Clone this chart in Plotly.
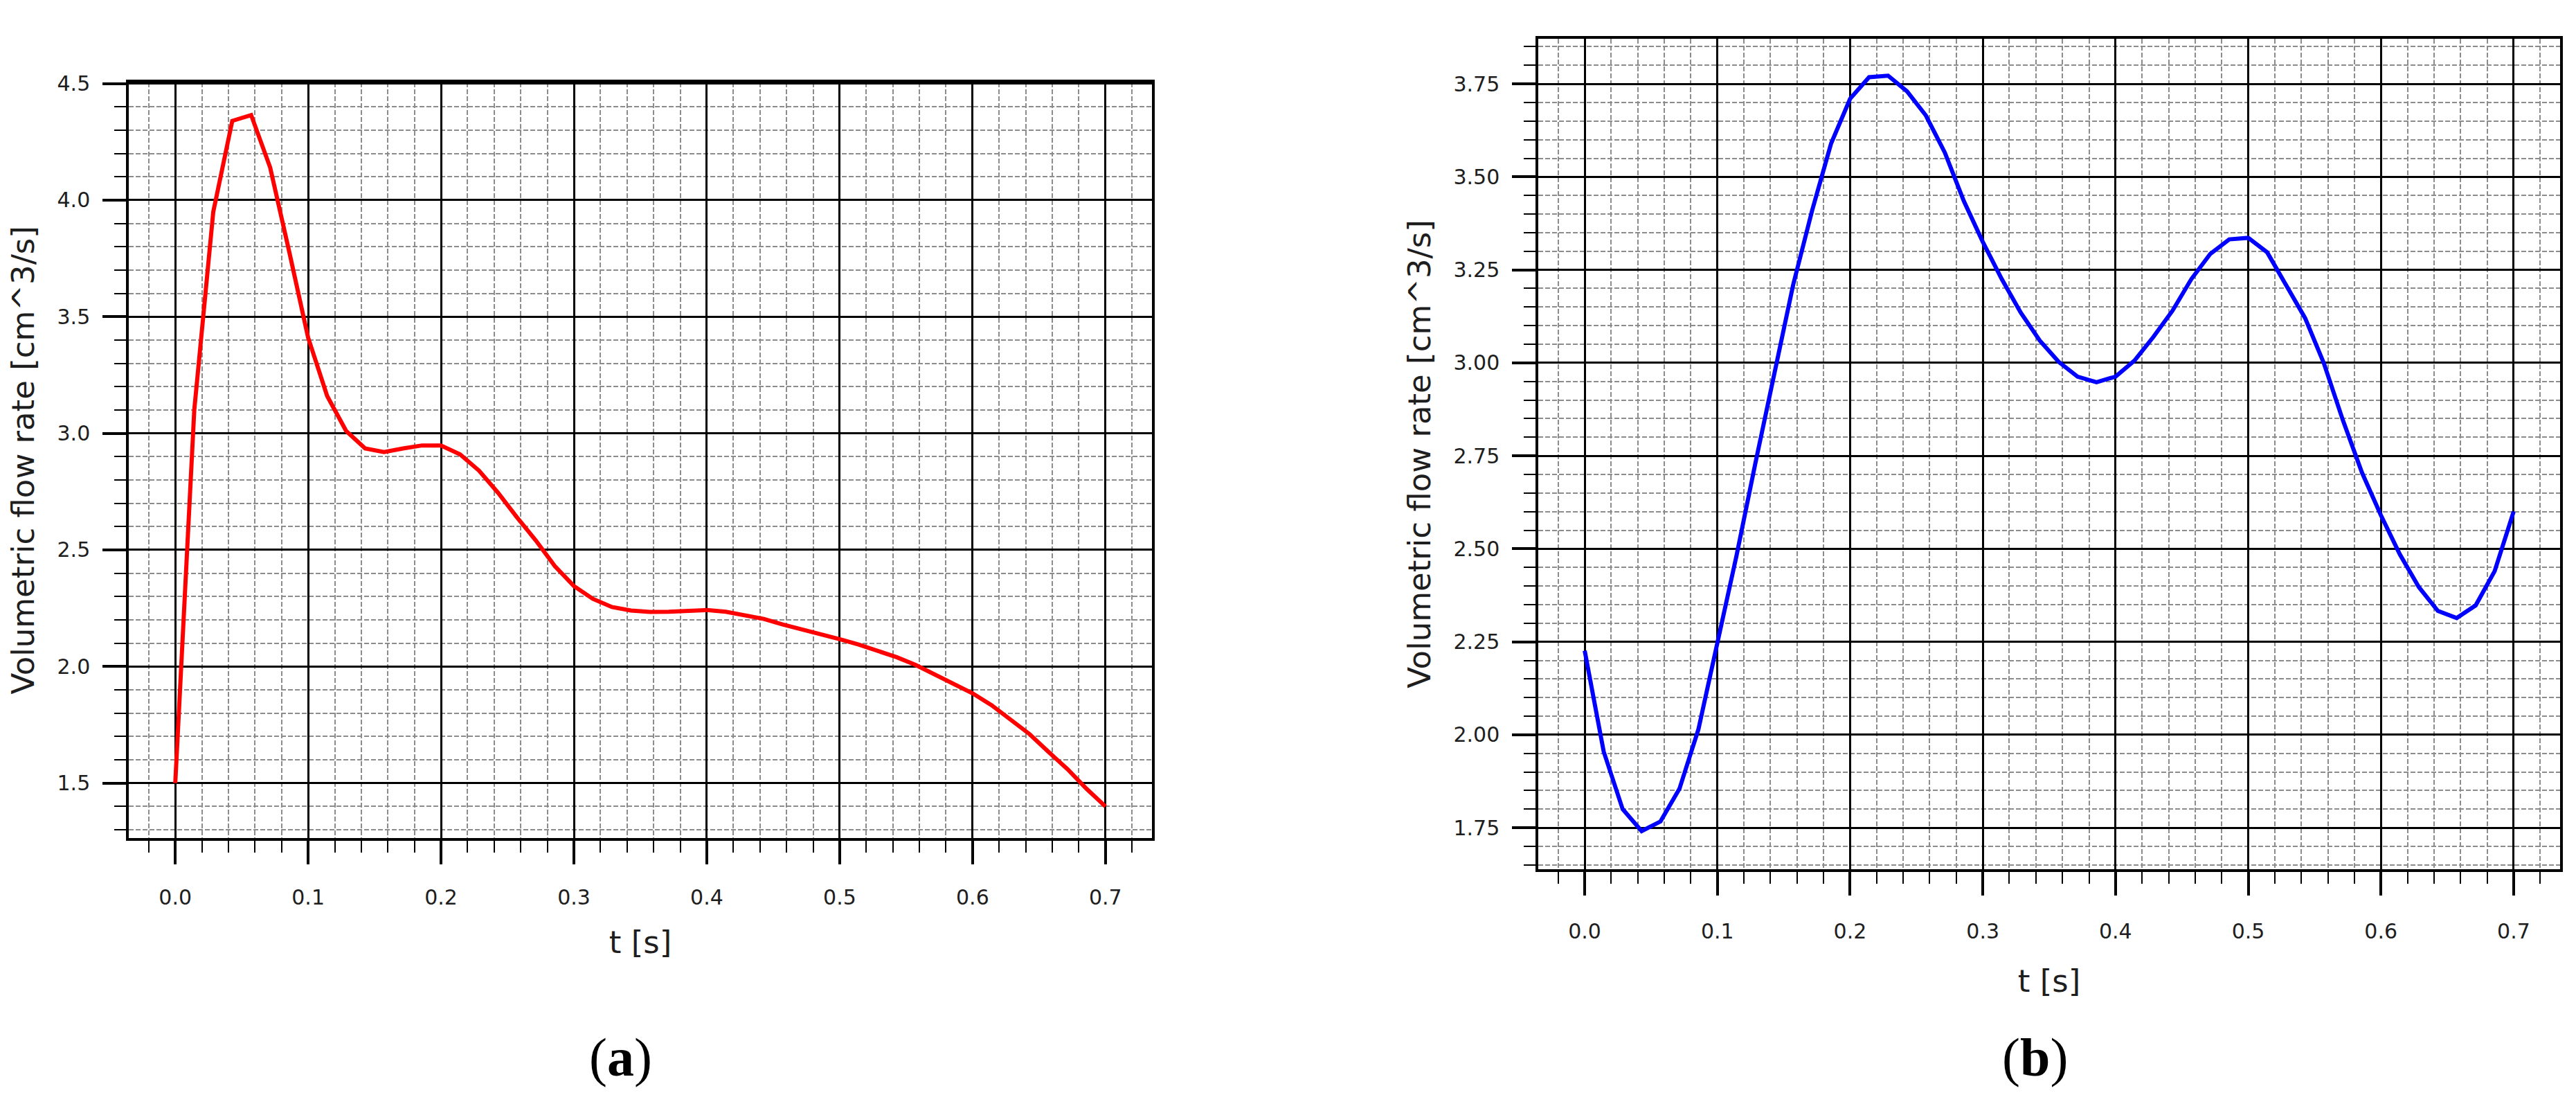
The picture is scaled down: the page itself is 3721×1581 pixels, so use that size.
import plotly.graph_objects as go

# ---- data ----
t_s = [0.0, 0.0143, 0.0286, 0.0429, 0.0571, 0.0714, 0.0857, 0.1, 0.1143, 0.1286,
       0.1429, 0.1571, 0.1714, 0.1857, 0.2, 0.2143, 0.2286, 0.2429, 0.2571, 0.2714,
       0.2857, 0.3, 0.3143, 0.3286, 0.3429, 0.3571, 0.3714, 0.3857, 0.4, 0.4143,
       0.4286, 0.4429, 0.4571, 0.4714, 0.4857, 0.5, 0.5143, 0.5286, 0.5429, 0.5571,
       0.5714, 0.5857, 0.6, 0.6143, 0.6286, 0.6429, 0.6571, 0.6714, 0.6857, 0.7]

flow_a = [1.50, 3.10, 3.95, 4.34, 4.365, 4.14, 3.78, 3.41, 3.16, 3.01,
          2.935, 2.92, 2.935, 2.948, 2.948, 2.91, 2.84, 2.745, 2.64, 2.54,
          2.43, 2.345, 2.29, 2.255, 2.24, 2.234, 2.235, 2.24, 2.242, 2.235,
          2.22, 2.204, 2.18, 2.16, 2.14, 2.117, 2.094, 2.069, 2.04, 2.007,
          1.966, 1.924, 1.885, 1.834, 1.772, 1.71, 1.634, 1.56, 1.476, 1.40]

flow_b = [2.226, 1.955, 1.80, 1.741, 1.767, 1.855, 2.015, 2.243, 2.48, 2.73,
          2.975, 3.21, 3.41, 3.59, 3.71, 3.768, 3.772, 3.73, 3.665, 3.565,
          3.435, 3.325, 3.225, 3.135, 3.06, 3.003, 2.963, 2.948, 2.963, 3.006,
          3.07, 3.14, 3.225, 3.293, 3.332, 3.336, 3.297, 3.21, 3.12, 2.998,
          2.845, 2.705, 2.59, 2.485, 2.397, 2.333, 2.314, 2.348, 2.44, 2.60]

x_title = "t [s]"
y_title = "Volumetric flow rate [cm^3/s]"
panel_labels = ["(<b>a</b>)", "(<b>b</b>)"]

FONT = "DejaVu Sans"
TXT = "#1e1e1e"

fig = go.Figure()
fig.add_trace(go.Scatter(x=t_s, y=flow_a, mode="lines",
                         line=dict(color="#ff0000", width=6),
                         xaxis="x", yaxis="y", showlegend=False))
fig.add_trace(go.Scatter(x=t_s, y=flow_b, mode="lines",
                         line=dict(color="#0000ff", width=6),
                         xaxis="x2", yaxis="y2", showlegend=False))


def common(dtick, mdtick, fmt, rng, standoff):
    return dict(
        range=rng, dtick=dtick, tick0=0, tickformat=fmt,
        showline=True, mirror=True, linecolor="black", linewidth=3.5,
        showgrid=True, gridcolor="black", gridwidth=2.6, zeroline=False,
        ticks="outside", ticklen=34, tickwidth=3.8, tickcolor="black",
        tickfont=dict(family=FONT, size=30, color=TXT),
        ticklabelstandoff=standoff,
        minor=dict(dtick=mdtick, tick0=0, showgrid=True, gridcolor="#8c8c8c",
                   gridwidth=1.5, griddash="7px,3px", ticks="outside",
                   ticklen=17, tickwidth=2.4, tickcolor="black"),
    )


W, H = 3721, 1581
xa = common(0.1, 0.02, ".1f", [-0.035, 0.735], 22)
xa.update(domain=[186 / W, 1664 / W], anchor="y",
          title=dict(text=x_title, font=dict(family=FONT, size=45, color=TXT), standoff=34))
ya = common(0.5, 0.1, ".1f", [1.265, 4.505], 12)
ya.update(domain=[1 - 1206 / H, 1 - 104 / H], anchor="x",
          title=dict(text=y_title, font=dict(family=FONT, size=45, color=TXT), standoff=20))
xb = common(0.1, 0.02, ".1f", [-0.035, 0.735], 26)
xb.update(domain=[2222 / W, 3698 / W], anchor="y2",
          title=dict(text=x_title, font=dict(family=FONT, size=45, color=TXT), standoff=40))
yb = common(0.25, 0.05, ".2f", [1.638, 3.872], 12)
yb.update(domain=[1 - 1252 / H, 1 - 40 / H], anchor="x2",
          title=dict(text=y_title, font=dict(family=FONT, size=45, color=TXT), standoff=20))

fig.update_layout(
    width=W, height=H,
    margin=dict(l=0, r=0, t=0, b=0),
    paper_bgcolor="white", plot_bgcolor="white",
    xaxis=xa, yaxis=ya, xaxis2=xb, yaxis2=yb,
    showlegend=False,
    annotations=[
        dict(text=panel_labels[0], x=896 / W, y=1 - 1526 / H, xref="paper", yref="paper",
             xanchor="center", yanchor="middle", showarrow=False,
             font=dict(family="Liberation Serif", size=78, color="black")),
        dict(text=panel_labels[1], x=2939 / W, y=1 - 1526 / H, xref="paper", yref="paper",
             xanchor="center", yanchor="middle", showarrow=False,
             font=dict(family="Liberation Serif", size=78, color="black")),
    ],
)

fig.write_html("out.html", config={"displayModeBar": False},
               post_script="document.body.style.margin='0';document.body.style.overflow='hidden';")
